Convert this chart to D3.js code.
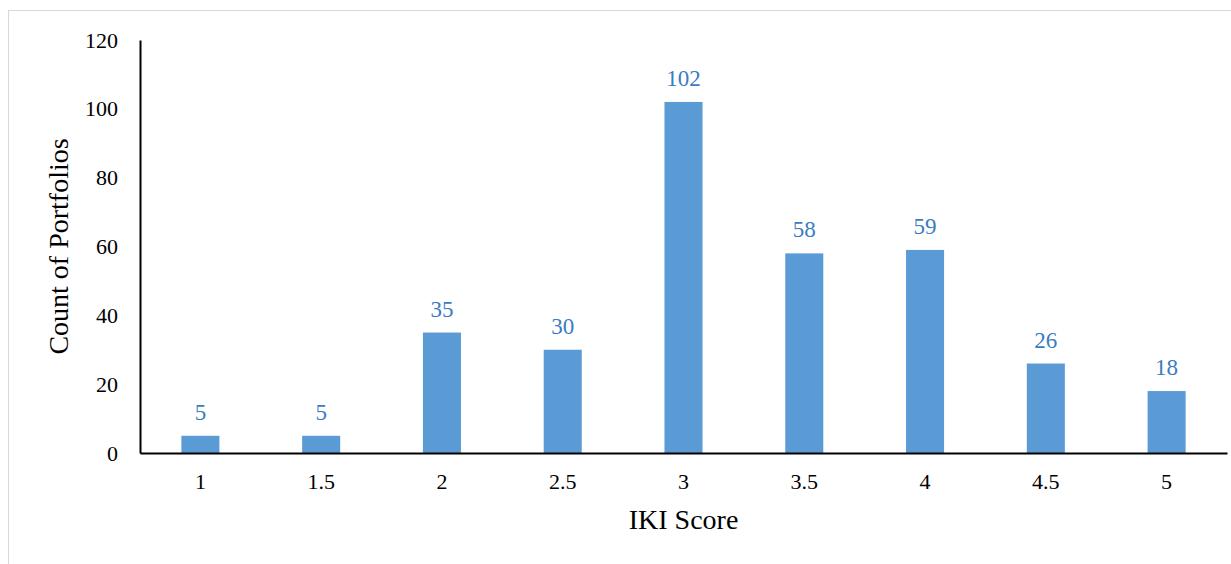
<!DOCTYPE html>
<html>
<head>
<meta charset="utf-8">
<script src="https://cdn.jsdelivr.net/npm/d3@7"></script>
<style>
  html, body { margin: 0; padding: 0; background: #fff; }
  svg { display: block; }
</style>
</head>
<body>
<svg id="chart" width="1231" height="564"></svg>
<script>
// IKI score buckets and the number of portfolios in each
const categories = ["1", "1.5", "2", "2.5", "3", "3.5", "4", "4.5", "5"];
const counts = [5, 5, 35, 30, 102, 58, 59, 26, 18];
const yTicks = [0, 20, 40, 60, 80, 100, 120];

const SERIF = "'Liberation Serif', 'Times New Roman', Times, serif";
const svg = d3.select("#chart");
const W = 1231, H = 564;
const margin = { left: 140, right: 4, top: 40, bottom: 111 };

// outer chart frame
svg.append("rect")
  .attr("x", 8.5).attr("y", 10.5)
  .attr("width", W + 20).attr("height", H + 20)
  .attr("fill", "#fff").attr("stroke", "#d9d9d9").attr("stroke-width", 1);

const x = d3.scaleBand()
  .domain(categories)
  .range([margin.left, W - margin.right])
  .paddingInner(0.685)
  .paddingOuter(0.3425);

const y = d3.scaleLinear()
  .domain([0, 120])
  .range([H - margin.bottom, margin.top]);

// bars
svg.append("g").selectAll("rect")
  .data(counts)
  .join("rect")
  .attr("x", (d, i) => x(categories[i]))
  .attr("width", x.bandwidth())
  .attr("y", d => y(d))
  .attr("height", d => y(0) - y(d))
  .attr("fill", "#5b9bd5");

// value labels
svg.append("g").selectAll("text")
  .data(counts)
  .join("text")
  .attr("x", (d, i) => x(categories[i]) + x.bandwidth() / 2)
  .attr("y", d => y(d) - 16)
  .attr("text-anchor", "middle")
  .style("font-family", SERIF)
  .style("font-size", "23px")
  .attr("fill", "#3a7cc0")
  .text(d => d);

// y axis
const yAxis = d3.axisLeft(y).tickValues(yTicks).tickSize(0).tickPadding(22);
const gy = svg.append("g")
  .attr("transform", `translate(${margin.left},0)`)
  .call(yAxis);
gy.select(".domain").attr("stroke", "#000").attr("stroke-width", 2);
gy.selectAll(".tick text")
  .style("font-family", SERIF)
  .style("font-size", "22px")
  .attr("fill", "#000");

// x axis
const xAxis = d3.axisBottom(x).tickSize(0).tickPadding(20);
const gx = svg.append("g")
  .attr("transform", `translate(0,${y(0)})`)
  .call(xAxis);
gx.select(".domain").attr("stroke", "#000").attr("stroke-width", 2);
gx.selectAll(".tick text")
  .style("font-family", SERIF)
  .style("font-size", "22px")
  .attr("fill", "#000");

// axis titles
svg.append("text")
  .attr("x", (margin.left + W - margin.right) / 2)
  .attr("y", 529)
  .attr("text-anchor", "middle")
  .style("font-family", SERIF)
  .style("font-size", "28px")
  .attr("fill", "#000")
  .text("IKI Score");

svg.append("text")
  .attr("transform", `translate(68,${(y(0) + y(120)) / 2}) rotate(-90)`)
  .attr("text-anchor", "middle")
  .style("font-family", SERIF)
  .style("font-size", "28px")
  .attr("fill", "#000")
  .text("Count of Portfolios");
</script>
</body>
</html>
